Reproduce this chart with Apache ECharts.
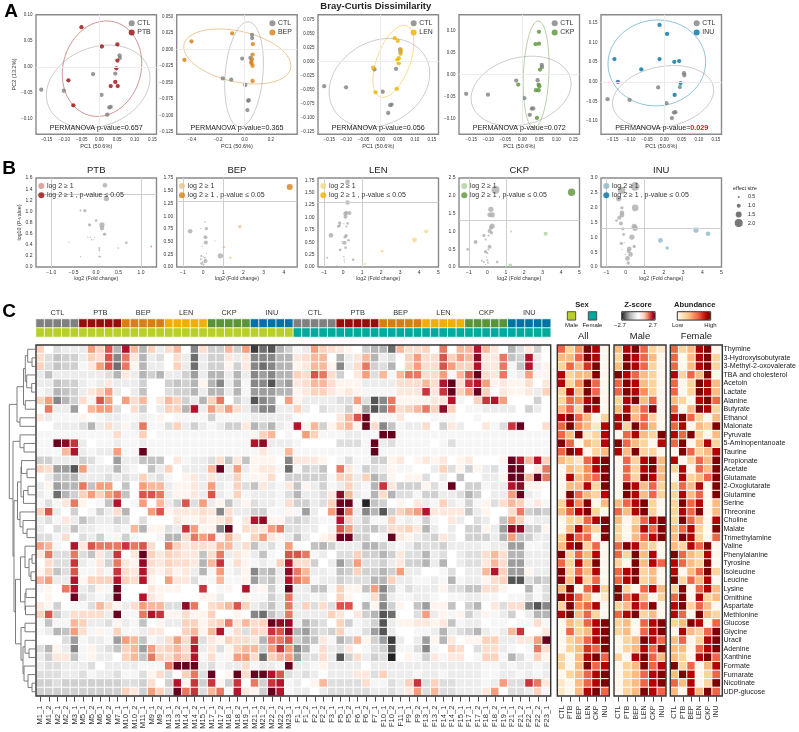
<!DOCTYPE html>
<html><head><meta charset="utf-8">
<style>html,body{margin:0;padding:0;background:#fff}#c{width:799px;height:732px}</style>
<script src="https://cdn.jsdelivr.net/npm/echarts@6/dist/echarts.min.js"></script>
</head><body><div id="c"></div>
<script>
const groups = ['PTB','BEP','LEN','CKP','INU'];
const allGroups = ['CTL','PTB','BEP','LEN','CKP','INU'];
const groupColors = {CTL:'#808080',PTB:'#990c0c',BEP:'#d67f14',LEN:'#eeb103',CKP:'#5a9338',INU:'#0072a3'};
const lightColors = {PTB:'#d88c8c',BEP:'#ebc08a',LEN:'#f4d98a',CKP:'#adcf98',INU:'#8db6cb'};
const sexColors = {Male:'#b8d029',Female:'#00ab9e'};

// Panel A: PCoA coordinates
const ctlPoints = [[-.165,-.044],[-.101,-.046],[-.018,-.014],[.006,-.054],[.045,-.013],[.057,.022],[.058,.017],[.028,-.078],[.032,-.077],[.022,-.092]];
const ptbPoints = [[-.051,.076],[.007,.039],[.051,.043],[.051,.012],[.048,-.003],[-.088,-.026],[.045,-.029],[.032,-.037],[.052,-.037],[-.074,-.074]];
const bepPoints = [[-.094,.024],[-.403,.012],[-.456,-.016],[.063,.008],[.061,-.008],[.056,-.015],[.051,-.019],[.061,-.025],[.061,-.048],[.053,-.021]];
const lenPoints = [[.041,.042],[.050,.037],[.059,.021],[.053,.006],[.048,.002],[.053,-.003],[-.022,-.011],[-.015,-.055],[.047,-.049],[.058,.014]];
const ckpPoints = [[.049,.097],[.039,.069],[.049,.070],[.052,.011],[-.012,-.023],[.048,-.023],[.040,-.036],[.050,-.027],[.043,-.099],[.048,-.036]];
const inuPoints = [[-.014,.145],[.008,.122],[-.145,.058],[-.014,.058],[.029,.051],[.043,.053],[-.067,.032],[-.135,0],[.047,-.003],[.030,-.033]];
const permanova = ['0.657','0.365','0.056','0.072','0.029'];
const xRangeA = [[-.18,.162],[-.515,.4],[-.183,.169],[-.186,.168],[-.184,.166]];
const yRangeA = [[-.1294,.1],[-.1285,.0524],[-.13,.084],[-.136,.136],[-.133,.171]];
const xTicksPc = [-.15,-.1,-.05,0,.05,.1,.15];
const xTicksBep = [-.4,-.2,0,.2];
const yTicksA = [[-.1,-.05,0,.05,.1],[-.125,-.1,-.075,-.05,-.025,0,.025,.05],[-.125,-.1,-.075,-.05,-.025,0,.025,.05,.075],[-.1,-.05,0,.05,.1],[-.1,-.05,0,.05,.1,.15]];
const ellipseStd = 2.0;

// Panel B: [log2 fold change, -log10 p, effect size]
const ptbGrey = [[.198,1.469,1.17],[.228,1.23,1.33],[-.347,1.015,.5],[-.25,1.015,.83],[-.146,.758,.83],[0,.836,.67],[.131,.758,1.33],[.131,.699,1.17],[.19,.591,.83],[-.183,.537,.33],[-.131,.537,.33],[-.1,.49,.4],[-.05,.49,.3],[-.03,.53,.25],[-.608,.448,.33],[.675,.436,.67],[.496,.34,.4],[.07,.34,.5],[.07,.3,.5],[-.347,.185,.33],[.07,.19,.5],[.1,.18,.33],[.01,.25,.2],[.04,.14,.2],[.07,.07,.2],[.03,.04,.2]];
const ptbLight = [[1.228,.37,.5]];
const ptbDark = [];
const bepGrey = [[.09,.885,.4],[-.11,.755,.33],[.16,.755,.83],[-.64,.703,1.17],[.12,.585,1],[.14,.48,1],[.59,.514,.3],[-.04,.41,.3],[.02,.455,.2],[.855,.22,1.33],[.12,.117,1],[-.09,.215,.5],[-.11,.15,.5],[.01,.2,.33],[.16,.267,.33],[.09,.18,.5],[-.07,.07,.67],[.02,.05,.5],[-.02,.1,.33],[.07,.1,.33]];
const bepLight = [[1.82,.794,.83],[1.02,.39,.67],[1.35,.18,.58]];
const bepDark = [[4.29,1.574,1.5]];
const lenGrey = [[.235,1.717,1.17],[.235,1.303,1.17],[.34,1.09,1],[.13,1.075,1.17],[.165,1.1,.83],[.13,1.015,1],[-.18,.888,.83],[-.18,.835,.67],[-.25,.82,.67],[.04,.875,.3],[.235,.88,.67],[.18,.82,.5],[.165,.635,.83],[.11,.608,.83],[-.635,.64,1.17],[.285,.54,.67],[-.06,.515,.33],[.08,.488,1],[-.04,.475,.3],[.13,.39,.67],[-.15,.347,.67],[.53,.147,.67],[-.83,.187,.5],[.04,.207,.4],[.06,.14,.4],[.08,.1,.3],[-.32,.02,.4],[0,.007,.3]];
const lenLight = [[4.36,.715,1],[3.75,.548,1.17],[2.05,.32,.67],[1.16,.06,.5]];
const lenDark = [];
const ckpGrey = [[.44,2.17,2],[.19,1.62,1.33],[.12,1.465,1.17],[.26,1.465,1.33],[.26,1.15,1.33],[.19,1.1,1],[.12,1.01,1],[.22,.96,.83],[-.19,.886,.83],[.06,.886,.5],[-.1,.775,.5],[-.64,.7,1],[.12,.57,1],[.05,.49,.5],[-.1,.43,.83],[0,.39,.5],[-.06,.29,.3],[-1.07,.495,.67],[-.3,.18,.5],[-.19,.14,.5],[0,.187,.5],[.03,.12,.5],[-.1,.075,.3],[.53,.14,.67]];
const ckpLight = [[1.29,1,.5],[3.16,.933,1],[1.25,.05,.83]];
const ckpDark = [[4.57,2.1,1.83]];
const inuGrey = [[.5,2.72,2.17],[-.21,2.587,1.83],[-.36,2.3,1.33],[.5,1.994,1.67],[-.19,1.994,.83],[-.19,1.825,1.17],[-.19,1.747,1.17],[-.33,1.657,1],[-.47,1.568,.67],[-.24,1.467,1],[-.14,1.288,.83],[.45,1.366,1.33],[.5,1.31,1.33],[-.1,1.097,.67],[.33,1.008,1.33],[-.22,.795,.83],[-.07,.82,.3],[.45,.694,.83],[.19,.616,1.17],[.16,.537,1],[.26,.425,1.17],[-.19,.59,.3],[-.02,.425,.3],[.1,.29,1.17],[.14,.134,.83]];
const inuLight = [[3.67,1.243,1.33],[4.3,1.12,1.17],[1.82,.896,1.17],[2.17,.64,.83]];
const inuDark = [];
const xRangeB = [[-1.34,1.347],[-1.304,4.66],[-1.315,5.01],[-1.54,5],[-1.28,5]];
const yMaxB = [1.6,1.75,1.797,2.5,3];
const xTicksB = [[-1,-.5,0,.5,1],[-1,0,1,2,3,4],[-1,0,1,2,3,4,5],[-1,0,1,2,3,4,5],[-1,0,1,2,3,4,5]];
const yTicksB = [[0,.2,.4,.6,.8,1,1.2,1.4,1.6],[0,.25,.5,.75,1,1.25,1.5,1.75],[0,.25,.5,.75,1,1.25,1.5,1.75],[0,.5,1,1.5,2,2.5],[0,.5,1,1.5,2,2.5,3]];
const pThreshold = 1.3;
const effectLegend = ['0.5','1.0','1.5','2.0'];

// Panel C
const metabolites = ['Thymine','3-Hydroxyisobutyrate','3-Methyl-2-oxovalerate','TBA and cholesterol','Acetoin','Lactate','Alanine','Butyrate','Ethanol','Malonate','Pyruvate','5-Aminopentanoate','Taurine','Propionate','Acetate','Glutamate','2-Oxoglutarate','Glutamine','Serine','Threonine','Choline','Malate','Trimethylamine','Valine','Phenylalanine','Tyrosine','Isoleucine','Leucine','Lysine','Ornithine','Aspartate','Methionine','Glucose','Glycine','Uracil','Adenine','Xanthine','Formate','Fumarate','Nicotinate','UDP-glucose'];
const sampleIds = ['M1_1','M1_2','M2_1','M2_2','M3_1','M5_1','M5_2','M6_1','M6_2','M7_1','M10_1','M10_2','M11_1','M9_1','M9_2','M13_1','M13_2','M14_1','M14_2','M15_1','M17_1','M17_2','M18_1','M18_2','M19_1','M21_1','M21_2','M22_1','M22_2','M23_1','F1_1','F1_2','F2_1','F2_2','F3_1','F5_1','F5_2','F6_1','F6_2','F7_1','F10_1','F10_2','F11_1','F9_1','F9_2','F13_1','F13_2','F14_1','F14_2','F15_1','F17_1','F17_2','F18_1','F18_2','F19_1','F21_1','F21_2','F22_1','F22_2','F23_1'];
// z-score in colour-scale steps (±6 = ±2.7)
const maleCells = [
[2,0,-1.5,-1,-1,-1,3,2,4,-3,5,2.5,-3,2,-1,1.5,2.5,0,-4,1.5,-2,-2,2.5,-2,3,-5.5,-4.5,-5,-3,-2],
[1.5,-1.5,-2.5,-2,-2,-1,2,1.5,4,-4,3.5,1,-3,-1,-1.5,0,1.5,-1,-4.5,-1,-2,-2,1,-1,1,-4,-4,-4,-3,-3],
[2,-1.5,-2.5,-2,-2,-.5,1,3,4,-4.5,3.5,.5,-3,-1,-1,0,2,-1,-4.5,-1,-2,-2,.5,-2,1,-4,-4.5,-4,-3,-3],
[-1,-2.5,-1,-1,-1,-1,-1,-1,-1.5,-3,1,-1,-3,-2,-3,-1,-1,-2,-3.5,-1,-3,-3,-1,-3,-1,-4,-3.5,-4,-3,-3],
[-1,-1,-2.5,-2,-2,-1,-.5,-1,1,-1,-1,-1,-2,0,0,-2,-2.5,-2,-3,.5,-3,-4,-1,-3,-.5,-4,-4,-5,-3,-3.5],
[-.5,-1,-3,-2.5,-2,-1,1,2,3,-1,0,-1,-2.5,0,0,-1.5,-2,-2,-3,-1,-3,-3,-1,-3,-.5,-3.5,-3.5,-3.5,-3,-3],
[2,3,-4,-3,-2,1.5,-.5,4,3,0,3,1.5,2.5,0,1,2.5,2,-2,-1,-3,2,3.5,0,-2,-1,-5,-4,-3.5,0,3],
[0,3.5,-1,-1,-3.5,0,2.5,3,3,-1.5,0,1.5,-2,0,-1,2,2,-3,5,-1,3,2,3,1.5,-1,-3,-4,-4,-1,-1],
[1,-1,-.5,-.5,-.5,.5,0,-.5,-1,-1,-.5,-.5,-1,-.5,.5,0,-.5,-.5,-.5,-.5,-2,-.5,-.5,-.5,-.5,-1,-1,-1,-1,-1],
[0,0,-1,-1,-1,-1.5,-3,-1,1.5,-1,.5,-1,3.5,-.5,-.5,-1.5,2,-1,-2,-1,-.5,-1,-2,-2,1,-3,-2,-3,-1,-.5],
[-.5,-.5,-.5,-.5,-.5,-.5,-.5,-.5,-.5,1.5,-.5,-.5,2,0,-.5,-.5,-.5,-.5,-.5,-.5,-.5,-.5,-.5,-.5,-.5,.5,2,2.5,0,-.5],
[-.5,-.5,6,5.5,4.5,-1,0,-.5,-.5,-1,-.5,-.5,-1,-.5,-.5,-.5,-.5,-.5,-.5,-.5,-.5,-.5,-.5,-.5,-.5,5,5.5,-1,-1,-1],
[-.5,-.5,-.5,2.5,5,-1,-.5,-1,-1,3,-.5,-.5,6,-.5,-.5,-.5,-.5,-.5,-.5,-.5,-.5,-.5,-.5,-.5,-.5,-.5,1,-.5,-.5,2.5],
[-2,-2,-1,-1,-1,-2,-1.5,-.5,0,-3.5,-1,-1,-2.5,-2.5,-2.5,0,1,-.5,-1,-1,-1.5,1.5,-2.5,1,-2.5,.5,.5,.5,0,-4],
[2,1.5,-3.5,-3.5,-5,3,-1,-1,-1,-3,-1,-.5,0,-2.5,-1,2,0,-1,-1,-1,2.5,6,-1,3,-1,.5,1,1,-.5,-4.5],
[0,-1,-2.5,-2.5,-3,-1,-1,-1,-1.5,-1,-1.5,-1,2,-1,-1.5,-.5,0,.5,1,-1,1,-1,-1,2,-.5,.5,.5,1.5,0,-2],
[-1,.5,-3.5,-3,-3,3.5,-2.5,3,3,0,-2.5,0,3,2.5,2.5,-1,.5,.5,1,-1,3,-1,-.5,2,-1.5,-2.5,1,-1,-.5,1],
[-1,-.5,-4.5,-3,-2,2,3,2,3,3.5,-2.5,0,4,4,3.5,-1,.5,.5,1,-1,4,-1,-.5,2,-.5,-1,-1,-1,-.5,-1.5],
[-.5,-1.5,-.5,1,3.5,.5,0,-.5,-2.5,5,0,-.5,3,0,2.5,-1,-2,4,-1.5,3,-1,.5,-2.5,-1,.5,-1.5,-1,-1,-.5,1.5],
[2,4,-1,0,-2,0,-.5,-2,-1,1.5,-3,0,0,3,4,.5,1,1,1,1.5,1,-4,1.5,-1,-1,-2,-2,-.5,-.5,.5],
[-1,-1.5,-.5,1,-1,-2.5,-1.5,-1,-1,-2,-1.5,0,-1.5,0,0,0,1,.5,.5,1,.5,1,2,0,1,5,5.5,.5,.5,-1.5],
[-1,0,-1.5,-1,-2.5,-1,-1,-.5,-.5,-1,-.5,2.5,-3,.5,.5,-1.5,-1,4.5,3,.5,.5,-4,6,0,1.5,1.5,1,3,3.5,-1.5],
[-1.5,-1.5,-.5,1.5,0,-1.5,-1,-2,-.5,.5,-2,-.5,0,0,-.5,-3,-3,1.5,3.5,3,3.5,.5,2.5,1,0,2,3,1,.5,-1],
[3,2.5,-.5,0,5,1,4,3.5,3.5,3.5,4.5,3.5,4,1.5,0,3.5,2,1,1.5,1.5,1,2.5,2.5,-1,1.5,-2.5,-1,-1.5,-.5,3],
[1,3.5,-1.5,-1.5,3.5,-1.5,-2.5,1,-1.5,4.5,0,1,6,2,1,2,1.5,1,1,-2.5,1.5,3.5,-1,1,.5,-1,-2.5,-.5,0,4],
[0,1.5,-1.5,-1.5,4.5,-1,-.5,1,-2,3.5,1,.5,5.5,1.5,1,2,1.5,1.5,1,-3,2.5,4.5,-.5,1.5,.5,-.5,-1,-.5,2,5],
[.5,2,-2.5,-1.5,4,-.5,-.5,1,-.5,4.5,1.5,1,5,1,.5,1.5,.5,1,-1,-3,-.5,3,-.5,-1,.5,-4,-2.5,-3,-1,5.5],
[2.5,3,-1,-1,5,.5,2,2,2,5,2,1.5,5,.5,0,3,1,1,-1.5,-.5,-.5,2.5,-.5,-.5,.5,-3.5,-2,-2.5,-1,5],
[-.5,.5,0,3.5,5,-1,-1.5,.5,-.5,6,0,0,0,1,.5,.5,.5,0,0,4.5,0,-.5,.5,0,5,-.5,.5,-2,-.5,6],
[0,.5,0,0,6,-1.5,-1,-.5,-1,6,0,0,5,1,.5,0,0,0,0,.5,.5,-1,0,0,.5,-.5,-.5,-2,-1,3.5],
[1,.5,-2,0,-.5,-.5,-1.5,2.5,1.5,.5,-1,1.5,3,2.5,2.5,-1.5,-1.5,5.5,3.5,0,1.5,2,2.5,4,2,-1,-1.5,-2.5,-1,3.5],
[2,4,-2,-1,1.5,1.5,1.5,1.5,-1,6,-.5,-.5,3.5,5,4.5,.5,.5,1.5,.5,.5,2,0,0,.5,0,-4,-4.5,-2.5,-1.5,3.5],
[-.5,-2.5,-.5,-.5,2.5,2,-1,-1,-1.5,.5,-1,-.5,-2.5,0,.5,-1,-1,2,2,.5,1.5,2,3.5,1,2.5,1.5,2,6,5.5,5.5],
[-.5,-1,-3,-2.5,3,1.5,-.5,.5,-.5,2,-.5,-.5,-1,1,1,0,0,2,2.5,.5,2.5,5,-.5,1.5,-1.5,2,1.5,4.5,4,5.5],
[0,0,0,-1.5,-3.5,-.5,-1,-1,-.5,-3.5,3,2.5,-2.5,-.5,-1,1.5,3,1.5,4.5,-1.5,1,.5,2,1.5,1.5,1,-3,3.5,3.5,4],
[-1.5,-3,.5,-1,-4,-.5,.5,-1,-1.5,-2.5,2,2.5,-3.5,3,1.5,2,2.5,1.5,5,-1,1,-1.5,.5,2,2.5,2.5,-2,3,4.5,3],
[-1,-2,1,1,-2.5,-.5,.5,-1,-1,0,2,2.5,-2.5,3.5,2,1.5,2.5,2,5,-.5,1.5,-.5,.5,3,3,1.5,-4.5,2,2.5,3],
[-1,-1.5,-1.5,-1,-1,-1,-1.5,0,-1,-1,-1,-1,-.5,-.5,-.5,3.5,6,6,6,-1,-1.5,-.5,-1,-1,1.5,-.5,-1,-1,-.5,6],
[-1.5,-1.5,-1.5,-1,-1,-1.5,-.5,-1,-1,-1.5,-.5,-.5,-1.5,.5,1.5,-1.5,0,2,3.5,-1.5,6,0,.5,6,1.5,6,6,5,4,-1.5],
[-2,-2,-1.5,-2,-2,-2,-2,-2,-2,-2,-1.5,-1.5,-2,1.5,0,-2,5,.5,4.5,-2,4.5,.5,-2,4.5,0,3.5,-2,4.5,5,-.5],
[-2,-2,-2,-2,-2,-2,-2,-2,-2,-2,2,1,-2,3,2,-1.5,6,3.5,4.5,-1.5,2.5,3.5,-.5,5,1,.5,-2,6,5,-.5]
];
const femaleCells = [
[-.5,-1,3,2,1.5,1,.5,0,-2,-3,-3,-4.5,2.5,1.5,1.5,2,0,3.5,0,2.5,2.5,5,2.5,1,0,-3,-1.5,1,-2,0],
[1,1.5,2.5,2.5,0,-3,-1,1,2.5,-3,-1,-1.5,0,2,3,1.5,1.5,4,2,3,2.5,5.5,1,1,3.5,-2.5,-2,5,-1,0],
[.5,1,2.5,2.5,.5,-4,-1,1.5,3.5,-2,-1.5,-3,0,2,3,1.5,1.5,4,3,2,2,5,1,1,3.5,-.5,-2.5,5,-1,.5],
[2,1.5,4,3.5,1.5,-2,0,1,3,-1.5,2.5,-.5,2.5,3.5,3.5,1.5,1.5,3,-.5,2.5,4,6,1.5,1,3.5,-.5,-1,3,-.5,.5],
[1,1.5,2.5,2.5,1.5,.5,.5,.5,-1,-1,-1,-1,1.5,1.5,1.5,2.5,1.5,5,6,1.5,4.5,5,3,.5,1,.5,.5,1.5,0,1],
[.5,1,2,2,1,.5,1,.5,-.5,-.5,-.5,-.5,1,1,1,4.5,1,4.5,6,2,3,6,2,0,1,.5,.5,1,-1,2],
[.5,-1,-1,-1,-1,-1.5,-1.5,3,-1.5,-5,-4,3.5,.5,.5,.5,.5,1,1,5,-.5,0,2,4.5,5,3,0,0,0,-2,0],
[2,-1,0,-1.5,-1,-1,-2,.5,-3.5,-5,-4,3.5,1.5,2,2.5,3.5,2,5.5,2,0,-.5,-.5,-1,-1,-1,-1,0,-2,-1,0],
[0,0,0,0,0,1,2.5,4,6,0,-.5,-.5,1,0,0,0,-.5,-.5,-.5,0,0,-.5,0,0,0,0,0,0,0,0],
[5,.5,2.5,-2,.5,2,2.5,.5,6,1.5,-4,-2.5,-.5,-1,-1,1.5,0,-2,1,-1,0,0,1,-.5,-1.5,4.5,6,0,0,1.5],
[0,3,2,-.5,-.5,-.5,-1,-1,-.5,-.5,6,6,-.5,-.5,-.5,-.5,-.5,-.5,-.5,-.5,-.5,-.5,-.5,-.5,-.5,-.5,-.5,-.5,-.5,-.5],
[-.5,0,0,0,0,-1.5,-1.5,-1.5,-.5,6,-1,-1.5,-.5,-.5,-.5,-.5,0,-.5,-1.5,-.5,-.5,-.5,-.5,-.5,-.5,-.5,-.5,-.5,-.5,-.5],
[-.5,-.5,-.5,-.5,-.5,-.5,-.5,-.5,-.5,6,-.5,-.5,-.5,-.5,-.5,-.5,-.5,-.5,-.5,-.5,-.5,-.5,-.5,-.5,-.5,-.5,-.5,-.5,-.5,-.5],
[1,1,1,.5,0,-.5,-1.5,-.5,-.5,-2,-2,.5,1,0,.5,1,.5,1,0,.5,1,0,0,0,.5,6,5,2.5,5,2],
[-.5,-2,-1.5,-2.5,0,3.5,1,-.5,-2,-1.5,-1,.5,-.5,-.5,0,0,-1,2,-1.5,.5,-2,.5,-1,-1.5,-.5,6,6,0,1,3.5],
[-2,-2,-2,-2,-.5,2,2,-1,2,-3,-2,.5,0,.5,.5,-1.5,0,-1,0,-2.5,0,0,-1,-1,.5,6,6,2.5,6,3.5],
[-2.5,.5,-1,-2,-.5,-1,2,-1,-.5,-3,4.5,1,-2,-2,-2,.5,-1.5,-.5,6,0,-2,-2,-.5,-1,-1,5,5.5,.5,.5,0],
[-3,-1,-1,-1.5,1,5.5,2.5,-1,-.5,-3,1.5,-3,-1.5,-1.5,-.5,-2,-2,-1,-1,-1.5,-3,-2,0,-1,-1,3,6,-1,-.5,0],
[-2,-2,-1,-1.5,2,6,6,-.5,-6,-2.5,-2,0,.5,0,1,-1,-.5,2,-1,-.5,-2,-.5,.5,-1.5,1.5,2.5,2,-.5,1,-.5],
[-.5,-3.5,-1,0,3,6,3.5,-1,-4,-3,-5,-2,2,2.5,3,5,1,1,1,1,-2.5,-1,.5,0,0,1.5,3.5,-2,-2.5,-2],
[-2,-1.5,-1,-.5,-.5,5,2,-1,-2,-.5,-.5,2,-.5,-1,-.5,-2,-.5,0,1,-1,0,-1.5,-1,0,-2.5,3,2,-.5,-1,-1],
[-1.5,-1,-1,0,-.5,4,3,-1.5,-2,-2.5,-1.5,1.5,1.5,2,1,-3,-1,0,-1,0,-2,-2,.5,-1,-3.5,5.5,5.5,-2,-2,.5],
[-2.5,-1,0,.5,1,6,6,-2,-2,0,-.5,6,1,.5,-1,-1.5,-2,1,-1,0,-2,-2,-2,-1,-3,3,-2.5,-2,-1,-1],
[0,0,-2.5,-3,-2,-1,-1,-1,-3,-3,-2,-1,-.5,-1,-2,-1.5,-1.5,-2,-1,-1,-1,-1,-.5,-1,-1,-3.5,-3.5,-.5,-.5,-1],
[4,3.5,-.5,-1,0,-1.5,-1.5,2,-2,-2,-3,-2,1,-1.5,-1.5,-3,-1,-1.5,0,-1,-1.5,-1.5,1.5,2.5,1.5,-3,-3,-1,-1,-1],
[1.5,1.5,-2,0,-1,-3.5,-2,3,-1.5,-1.5,-2,-1,1,-2,-2,-3,-1,-3,0,-1,-1.5,-1.5,1,2.5,1.5,-3.5,-3.5,-1,-1,-1],
[3.5,2.5,-1,-1,-.5,-2.5,-2,2,-2,-2,-3,-2,3,-1,-1,0,0,-.5,-1.5,0,-1,-1,2.5,5,2,-3.5,-3.5,.5,-1,-1],
[3.5,3,-.5,-1,-1,-2,-1.5,-1.5,-1.5,-3,-3,2,-1,-1,-.5,-.5,-1,-.5,-3,-.5,-1,-1,.5,1.5,2,-5,-5,-1.5,-2.5,-2],
[-1,-1,-2.5,-2.5,-.5,2,.5,.5,-2.5,3,-4,-2,-.5,-1.5,-1,-1,-1,.5,-1.5,-1.5,-2.5,-2.5,1.5,1.5,.5,0,0,-3,-.5,-1.5],
[-1,-1,-.5,-1,0,2,.5,0,-.5,1.5,-3.5,-1,-.5,-.5,-1,-1,-.5,0,-.5,-.5,-1,-1,-.5,-.5,0,-.5,-.5,-1.5,-.5,-1.5],
[-1,2,-1.5,1.5,-1.5,4,4,0,-3,.5,-4,-2,.5,0,-2.5,-3.5,.5,.5,-2.5,0,-2,-3,0,1,-1.5,1.5,1.5,-4,-5,-4],
[-1,-1,-1,-1,2,1,0,1,-2,-3,-5,-4.5,0,0,-1.5,3,-1,.5,-.5,.5,-2,-1,.5,-.5,-1,-2,0,-1,-3,-3],
[-1,-3,-2,-1.5,0,2,-2,-.5,-1,-2,-5,-1,.5,.5,1,1,.5,1,-2.5,-.5,-1,-1,0,-.5,-.5,0,-.5,-.5,1.5,-.5],
[-3,-3.5,-2,-1.5,-2,2,-.5,-.5,-1.5,-3.5,-5,-1,0,0,-.5,-.5,-1,-3,-1,-1.5,-2,-3,-1,-.5,-1,2.5,4.5,0,0,1],
[-2,-3,-2.5,1,-.5,-3,-2,2.5,.5,-2,-3.5,-5.5,-1,0,-1,-3.5,.5,-3,1,0,.5,.5,2,2,-1,-1,1,1,3,6],
[-4,-3,-.5,1.5,-1,-1.5,1,0,-.5,-1.5,-2,-5,-.5,-.5,-1.5,-4,-.5,0,2,1.5,0,-1.5,1.5,1.5,-1,-.5,0,-.5,3.5,1.5],
[-3.5,-1.5,-1.5,1.5,-1,-5,-2,1.5,-1,-2,-1.5,-6,0,.5,-.5,-2,1,-.5,1,1,0,-.5,2,2,-.5,-3,-1.5,-.5,2,.5],
[-1,-1,-.5,.5,-1,-1,-1,-1,0,-1,-1,-1,-1,-1,-1,-1,-1,-1,-1,-1,-1,-1,-.5,-.5,-1,-.5,-1,-1,-.5,-1],
[-1,-1.5,-1,0,-1,-1,-1,1,1,-1.5,2,-1,-1,-1,-.5,-1,-1,-.5,-1,-1,-1,-1,-.5,-.5,-1,-1,-.5,-1,-.5,-1],
[-1,0,.5,2.5,-1.5,-1.5,-1.5,-1.5,1.5,-.5,-.5,-1.5,-1,2,4.5,-1.5,2,-1.5,-1.5,-1,-1,-1,-.5,-1,3,-1.5,-1.5,4.5,3.5,1],
[-1,-1,0,-1,-1.5,-1.5,-1.5,-1.5,-1.5,-1,-1,-1.5,-1,1,3,-1.5,2.5,-1.5,-1.5,-1,-1,-1,1,3,0,-1.5,-1.5,-1,2,-.5]
];
// abundance step 0..8, per group CTL..INU
const abundanceAll = [[5,2,4,8,7,0],[3,3,5,8,7,0],[2,5,3,6,8,0],[7,2,3,3,8,0],[7,2,4,8,5,0],[2,7,3,8,5,0],[2,5,4,7,8,0],[3,5,2,8,7,0],[7,8,5,3,0,2],[5,8,4,3,1,7],[5,3,8,1,2,7],[8,5,0,3,2,7],[5,8,7,0,2,3],[3,2,1,5,7,8],[0,3,2,4,7,8],[0,7,3,4,5,8],[0,3,3,7,2,8],[0,8,5,3,2,7],[2,7,4,8,0,3],[3,5,7,8,2,0],[0,2,2,5,7,8],[0,3,7,4,2,8],[2,7,5,5,0,8],[3,7,8,2,5,0],[8,2,5,3,7,0],[5,2,7,3,8,0],[8,2,5,3,7,0],[8,3,7,2,5,0],[3,8,0,5,7,2],[8,7,5,3,0,1],[2,8,4,5,7,0],[7,8,3,5,2,0],[0,3,2,5,7,8],[0,5,2,3,7,8],[0,2,3,5,7,8],[0,2,3,6,5,8],[2,0,3,7,8,5],[2,0,3,8,5,7],[0,2,3,5,7,8],[1,0,3,5,7,8],[1,0,3,7,8,5]];
const abundanceMale = [[3,7,8,5,2,1],[2,8,7,5,3,0],[3,8,7,5,2,0],[8,7,5,3,2,0],[5,8,7,3,2,0],[5,8,7,4,2,0],[2,7,8,3,5,0],[3,7,3,5,8,0],[7,8,3,5,2,0],[7,2,8,5,3,0],[0,5,7,3,2,8],[8,5,3,2,0,7],[7,3,8,2,2,0],[0,5,2,7,8,3],[0,5,2,7,8,3],[0,5,2,8,7,3],[0,8,7,3,5,2],[0,8,7,3,5,2],[3,5,7,8,2,0],[5,3,7,8,2,0],[3,0,2,5,7,8],[2,0,3,7,5,8],[2,0,3,5,7,8],[5,8,7,3,2,0],[5,2,8,3,7,0],[2,0,8,3,7,5],[5,7,8,2,3,0],[5,7,8,2,3,0],[8,2,0,5,7,3],[8,5,7,3,0,2],[2,3,7,5,8,0],[5,7,8,2,3,0],[2,3,0,5,7,8],[2,3,0,5,7,8],[0,2,3,8,7,5],[0,2,3,7,5,8],[2,0,7,8,5,3],[0,2,3,8,5,7],[0,2,3,5,7,8],[0,2,3,5,7,8],[0,2,3,8,7,5]];
const abundanceFemale = [[5,2,3,7,8,0],[5,0,3,7,8,2],[5,0,3,7,8,2],[7,2,5,3,8,0],[5,0,2,8,7,3],[5,0,2,8,7,3],[3,2,0,7,8,5],[5,0,3,8,7,2],[7,8,5,2,0,3],[5,7,0,3,2,8],[7,5,8,2,0,3],[5,8,0,3,7,2],[0,8,5,2,3,7],[7,0,2,5,3,8],[2,7,0,5,3,8],[0,7,2,3,5,8],[2,5,3,7,0,8],[2,7,3,5,0,8],[2,8,5,7,0,3],[2,7,5,8,0,3],[2,8,5,3,0,7],[3,5,7,2,0,8],[3,8,7,2,0,5],[3,2,7,5,8,0],[8,5,3,2,7,0],[7,5,3,2,8,0],[7,0,3,5,8,2],[8,2,5,3,7,0],[2,8,0,5,7,3],[5,8,0,7,2,3],[7,8,2,5,3,0],[7,5,0,8,3,2],[2,3,8,7,0,5],[0,7,3,2,5,8],[3,5,0,2,7,8],[3,3,0,5,7,8],[3,2,0,7,8,5],[8,2,5,0,3,7],[3,8,7,0,2,5],[5,3,7,0,2,8],[3,0,7,3,8,5]];
// row dendrogram: [height, child, child]; a number is a row index
const dendrogram = [26.7,
  [19,[12.5,[10.7,[8.3,0,[4,1,2]],[9.3,3,[4.3,4,5]]],[10.7,6,7]],[16,8,9]],
  [23,[16,10,[12,11,12]],
    [22,
      [18.5,[15,[14.5,13,[9,14,15]],[12.5,[8,16,17],18]],[16,19,[13,20,[9,21,22]]]],
      [20.5,
        [15.5,[11,23,[7,[4,24,25],[5,26,27]]],[11,[10,28,29],[10.5,30,31]]],
        [15,[11,32,33],[13,[11,34,[7,35,36]],[12,37,[8,38,[4,39,40]]]]]
      ]
    ]
  ]
];

const FONT = '"Liberation Sans", Arial, sans-serif';
const minus = s => String(s).replace('-', '\u2212');
const fmt = d => v => minus(Number(v).toFixed(d));
const panelLeft = [36,176.7,318,459,601];
const panelWidth = 120.5;

const opt = {animation:false, backgroundColor:'#fff', textStyle:{fontFamily:FONT},
  grid:[], xAxis:[], yAxis:[], series:[], legend:[], visualMap:[], graphic:[]};
const G = opt.graphic;
function text(x,y,s,size,o={}) {
  G.push({type:'text',x,y,silent:true,z:50,style:{text:s,fontSize:size,fontFamily:FONT,fill:o.fill||'#222',
    fontWeight:o.bold?'bold':'normal',textAlign:o.align||'center',textVerticalAlign:'middle',rich:o.rich}});
}
function frame(x,y,w,h,color,lw) {
  G.push({type:'rect',silent:true,z:40,shape:{x,y,width:w,height:h},style:{fill:'none',stroke:color,lineWidth:lw}});
}
function valueAxis(gridIndex,range,ticks,digits,size,extra) {
  return Object.assign({type:'value',gridIndex,min:range[0],max:range[1],splitLine:{show:false},
    axisLine:{show:false},axisTick:{show:false,customValues:ticks},
    axisLabel:{customValues:ticks,fontSize:size,color:'#333',margin:3.5,formatter:fmt(digits)}},extra||{});
}
function confidenceEllipse(pts,n) {
  const m=pts.length, mx=pts.reduce((a,p)=>a+p[0],0)/m, my=pts.reduce((a,p)=>a+p[1],0)/m;
  let sxx=0,syy=0,sxy=0; pts.forEach(p=>{sxx+=(p[0]-mx)**2;syy+=(p[1]-my)**2;sxy+=(p[0]-mx)*(p[1]-my);});
  sxx/=m-1;syy/=m-1;sxy/=m-1;
  const sx=Math.sqrt(sxx),sy=Math.sqrt(syy),r=sxy/(sx*sy),a=Math.sqrt(1+r),b=Math.sqrt(1-r),out=[];
  for(let i=0;i<=120;i++){const t=i/120*2*Math.PI,u=a*Math.cos(t),v=b*Math.sin(t);
    out.push([mx+n*sx*(u-v)/Math.SQRT2,my+n*sy*(u+v)/Math.SQRT2]);}
  return out;
}

// ---------- Panel A
const groupPointsA = [ptbPoints,bepPoints,lenPoints,ckpPoints,inuPoints];
groups.forEach((g,i)=>{
  const gi=opt.grid.length, col=groupColors[g];
  opt.grid.push({left:panelLeft[i],top:14.7,width:panelWidth,height:119.5,show:true,backgroundColor:'#fff',borderColor:'#8a8a8a',borderWidth:1.4});
  opt.xAxis.push(valueAxis(gi,xRangeA[i],i===1?xTicksBep:xTicksPc,i===1?1:2,4.5,{name:'PC1 (50.6%)',nameLocation:'middle',nameGap:9.5,nameTextStyle:{fontSize:5.6,color:'#333'}}));
  opt.yAxis.push(valueAxis(gi,yRangeA[i],yTicksA[i],(i===1||i===2)?3:2,4.5,i===0?{name:'PC2 (13.2%)',nameLocation:'middle',nameGap:8,nameTextStyle:{fontSize:5.6,color:'#333'}}:{}));
  const pts=groupPointsA[i];
  const base={xAxisIndex:gi,yAxisIndex:gi,silent:true};
  opt.series.push(Object.assign({type:'line',name:'ellipse',data:confidenceEllipse(ctlPoints,ellipseStd),showSymbol:false,symbol:'none',lineStyle:{color:'#808080',width:.8,opacity:.5},z:2,clip:true,
    markLine:{silent:true,symbol:'none',label:{show:false},animation:false,lineStyle:{color:'#ececec',width:1,type:'solid'},data:[{xAxis:0},{yAxis:0}]}},base));
  opt.series.push(Object.assign({type:'line',name:'ellipse',data:confidenceEllipse(pts,ellipseStd),showSymbol:false,symbol:'none',lineStyle:{color:col,width:.8,opacity:.55},z:2,clip:true},base));
  opt.series.push(Object.assign({type:'scatter',name:'CTL',data:ctlPoints,symbolSize:4.3,itemStyle:{color:groupColors.CTL},z:3},base));
  opt.series.push(Object.assign({type:'scatter',name:g,data:pts,symbolSize:4.3,itemStyle:{color:col},z:4},base));
  opt.legend.push({show:true,data:['CTL',g],orient:'vertical',left:panelLeft[i]+92.7,top:19.7,padding:0,itemGap:2.3,itemWidth:6,itemHeight:6,icon:'circle',selectedMode:false,textStyle:{fontSize:6.9,color:'#333',fontFamily:FONT,padding:[0,0,0,-2.4]}});
  const cx=panelLeft[i]+panelWidth/2, rich={a:{fontSize:7.2,fontFamily:FONT,fill:'#222'},b:{fontSize:7.2,fontFamily:FONT,fontWeight:'bold',fill:'#d0181c'}};
  if(i===4) text(cx+.5,128.3,'{a|PERMANOVA p-value=}{b|'+permanova[i]+'}',7.2,{rich});
  else text(cx,128.3,'PERMANOVA p-value='+permanova[i],7.2);
});

// ---------- Panel B
const greyB=[ptbGrey,bepGrey,lenGrey,ckpGrey,inuGrey], lightB=[ptbLight,bepLight,lenLight,ckpLight,inuLight], darkB=[ptbDark,bepDark,lenDark,ckpDark,inuDark];
const symEffect = d => d[2]*4;
const nameLight='log 2 \u2265 1', nameDark='log 2 \u2265 1 , p-value \u2264 0.05';
groups.forEach((g,i)=>{
  const gi=opt.grid.length;
  opt.grid.push({left:panelLeft[i],top:178,width:panelWidth,height:89,show:true,backgroundColor:'#fff',borderColor:'#8a8a8a',borderWidth:1.4});
  const xd=i===0?1:0, yd=(i===1||i===2)?2:1;
  opt.xAxis.push(valueAxis(gi,xRangeB[i],xTicksB[i],xd,5,{name:'log2 (Fold change)',nameLocation:'middle',nameGap:9.5,nameTextStyle:{fontSize:5.3,color:'#333'}}));
  opt.yAxis.push(valueAxis(gi,[0,yMaxB[i]],yTicksB[i],yd,5,i===0?{name:'log10 (P-value)',nameLocation:'middle',nameGap:8,nameTextStyle:{fontSize:5.3,color:'#333'}}:{}));
  const base={xAxisIndex:gi,yAxisIndex:gi,silent:true,symbolSize:symEffect};
  opt.series.push(Object.assign({type:'scatter',name:'n.s.',data:greyB[i],itemStyle:{color:'#adadad'},z:3,
    markLine:{silent:true,symbol:'none',label:{show:false},animation:false,lineStyle:{color:'#cfcfcf',width:1,type:'solid'},data:[{xAxis:-1},{xAxis:1},{yAxis:pThreshold}]}},base));
  opt.series.push(Object.assign({type:'scatter',name:nameLight,data:lightB[i],itemStyle:{color:lightColors[g]},z:4},base));
  opt.series.push(Object.assign({type:'scatter',name:nameDark,data:darkB[i],itemStyle:{color:groupColors[g]},z:4},base));
  opt.legend.push({show:true,orient:'vertical',left:panelLeft[i]+2.3,top:182.4,padding:0,itemGap:2.4,itemWidth:6,itemHeight:6,selectedMode:false,z:6,
    data:[{name:nameLight,icon:'circle',itemStyle:{color:lightColors[g]}},{name:nameDark,icon:'circle',itemStyle:{color:groupColors[g]}}],
    textStyle:{fontSize:7,color:'#333',fontFamily:FONT,padding:[0,0,0,-2.4]}});
  text(panelLeft[i]+panelWidth/2,170,g,9.5);
});
text(745,188.3,'effect size',5.3);
effectLegend.forEach((s,i)=>{
  const cy=197+8.7*i;
  G.push({type:'circle',silent:true,z:50,shape:{cx:738.7,cy,r:Number(s)*2},style:{fill:'#777'}});
  text(748,cy,s,5.2,{align:'left'});
});

// ---------- Panel C
const rows41=metabolites.length, H={top:345,height:351};
// sample annotation bars
{
  const gi=opt.grid.length;
  const groupOfCol=sampleIds.map((s,i)=>allGroups[Math.floor(i/5)%6]);
  opt.grid.push({left:36,top:319,width:514.7,height:18});
  opt.xAxis.push({type:'category',gridIndex:gi,position:'top',data:groupOfCol,axisLine:{show:false},axisTick:{show:false},splitLine:{show:false},
    axisLabel:{interval:(idx)=>idx%5===2,fontSize:7.4,color:'#333',margin:3}});
  opt.yAxis.push({type:'category',gridIndex:gi,inverse:true,data:['group','sex'],show:false});
  const d=[];
  sampleIds.forEach((s,i)=>{
    d.push({value:[i,0,0],itemStyle:{color:groupColors[groupOfCol[i]]}});
    d.push({value:[i,1,0],itemStyle:{color:s[0]==='M'?sexColors.Male:sexColors.Female}});
  });
  opt.series.push({type:'heatmap',name:'annot',xAxisIndex:gi,yAxisIndex:gi,data:d,silent:true,progressive:0,itemStyle:{borderColor:'#fff',borderWidth:.8}});
}
// dendrogram
{
  const gi=opt.grid.length;
  opt.grid.push({left:9,top:H.top,width:27,height:H.height});
  opt.xAxis.push({type:'value',gridIndex:gi,min:0,max:27,inverse:true,show:false,splitLine:{show:false}});
  opt.yAxis.push({type:'value',gridIndex:gi,min:0,max:rows41,inverse:true,show:false,splitLine:{show:false}});
  const segs=[];
  const walk=n=>{
    if(typeof n==='number') return {h:0,y:n+.5};
    const a=walk(n[1]),b=walk(n[2]),h=n[0];
    segs.push({coords:[[a.h,a.y],[h,a.y],[h,b.y],[b.h,b.y]]});
    return {h,y:(a.y+b.y)/2};
  };
  walk(dendrogram);
  opt.series.push({type:'lines',name:'dendrogram',coordinateSystem:'cartesian2d',polyline:true,xAxisIndex:gi,yAxisIndex:gi,data:segs,silent:true,lineStyle:{color:'#6e6e6e',width:.9,opacity:1}});
}
// main heatmap
const zSeries=opt.series.length;
{
  const gi=opt.grid.length;
  opt.grid.push({left:36,top:H.top,width:514.7,height:H.height});
  opt.xAxis.push({type:'category',gridIndex:gi,data:sampleIds,axisLine:{show:false},splitLine:{show:false},
    axisTick:{show:true,length:5.5,alignWithLabel:true,lineStyle:{color:'#333',width:.9}},
    axisLabel:{interval:0,rotate:90,fontSize:7.6,color:'#333',margin:9.5}});
  opt.yAxis.push({type:'category',gridIndex:gi,inverse:true,data:metabolites,show:false});
  const d=[];
  metabolites.forEach((m,r)=>{
    maleCells[r].forEach((v,c)=>d.push([c,r,v]));
    femaleCells[r].forEach((v,c)=>d.push([c+30,r,v]));
  });
  opt.series.push({type:'heatmap',name:'z-score',xAxisIndex:gi,yAxisIndex:gi,data:d,silent:true,progressive:0,itemStyle:{borderColor:'#fff',borderWidth:1}});
  frame(36,H.top,514.7,H.height,'#333',1.4);
}
// group-mean heatmaps
const abundLeft=[557.3,614,670.3], abundWidth=52, abundSeries=[];
[['All',abundanceAll],['Male',abundanceMale],['Female',abundanceFemale]].forEach(([label,tbl],k)=>{
  const gi=opt.grid.length;
  opt.grid.push({left:abundLeft[k],top:H.top,width:abundWidth,height:H.height});
  opt.xAxis.push({type:'category',gridIndex:gi,data:allGroups,axisLine:{show:false},splitLine:{show:false},
    axisTick:{show:true,length:5.5,alignWithLabel:true,lineStyle:{color:'#333',width:.9}},
    axisLabel:{interval:0,rotate:90,fontSize:7,color:'#333',margin:9.5}});
  opt.yAxis.push(k===2
    ?{type:'category',gridIndex:gi,inverse:true,data:metabolites,position:'right',axisLine:{show:false},axisTick:{show:false},splitLine:{show:false},axisLabel:{interval:0,fontSize:7.1,color:'#222',margin:3}}
    :{type:'category',gridIndex:gi,inverse:true,data:metabolites,show:false});
  abundSeries.push(opt.series.length);
  const d=[]; tbl.forEach((row,r)=>row.forEach((v,c)=>d.push([c,r,v])));
  opt.series.push({type:'heatmap',name:label,xAxisIndex:gi,yAxisIndex:gi,data:d,silent:true,progressive:0,itemStyle:{borderColor:'#fff',borderWidth:1}});
  frame(abundLeft[k],H.top,abundWidth,H.height,'#333',1.4);
  text(abundLeft[k]+abundWidth/2,336,label,9.4);
});
const zColors=['#222222','#555555','#878787','#b5b5b5','#d0d0d0','#ececec','#ffffff','#fee8dd','#fcd2bc','#f59d7c','#d9544a','#b5132b','#67001f'];
const abundColors=['#fff7ec','#fee8c8','#fdd49e','#fdbb84','#fc8d59','#ef6548','#d7301f','#b30000','#7f0000'];
opt.visualMap.push({type:'continuous',seriesIndex:zSeries,dimension:2,min:-6,max:6,orient:'horizontal',left:621.7,top:311.7,padding:0,itemWidth:8.4,itemHeight:33.4,calculable:false,realtime:false,hoverLink:false,inRange:{color:zColors},text:null,showLabel:false});
opt.visualMap.push({type:'continuous',seriesIndex:abundSeries,dimension:2,min:0,max:8,orient:'horizontal',left:677.3,top:311.7,padding:0,itemWidth:8.4,itemHeight:33.4,calculable:false,realtime:false,hoverLink:false,inRange:{color:abundColors},text:null,showLabel:false});
frame(621.7,311.7,33.4,8.4,'#333',1);
frame(677.3,311.7,33.4,8.4,'#333',1);
text(582,305,'Sex',7.6,{bold:true});
text(638,305,'Z-score',7.6,{bold:true});
text(694.7,305,'Abundance',7.6,{bold:true});
G.push({type:'rect',silent:true,z:45,shape:{x:567.3,y:311.7,width:8.4,height:8.4},style:{fill:sexColors.Male,stroke:'#333',lineWidth:.8}});
G.push({type:'rect',silent:true,z:45,shape:{x:588.3,y:311.7,width:8.4,height:8.4},style:{fill:sexColors.Female,stroke:'#333',lineWidth:.8}});
text(571.6,325,'Male',6);
text(592.4,325,'Female',6);
text(620,325,'\u22122.7',6);
text(652.7,325,'2.7',6);
text(677.5,325,'Low',6);
text(710.5,325,'High',6);

text(375.8,6.3,'Bray-Curtis Dissimilarity',9.5,{bold:true});
text(11,11.5,'A',19,{bold:true,fill:'#000'});
text(9,169,'B',19,{bold:true,fill:'#000'});
text(9,312,'C',19,{bold:true,fill:'#000'});

echarts.init(document.getElementById('c'),null,{renderer:'canvas'}).setOption(opt);
</script></body></html>
